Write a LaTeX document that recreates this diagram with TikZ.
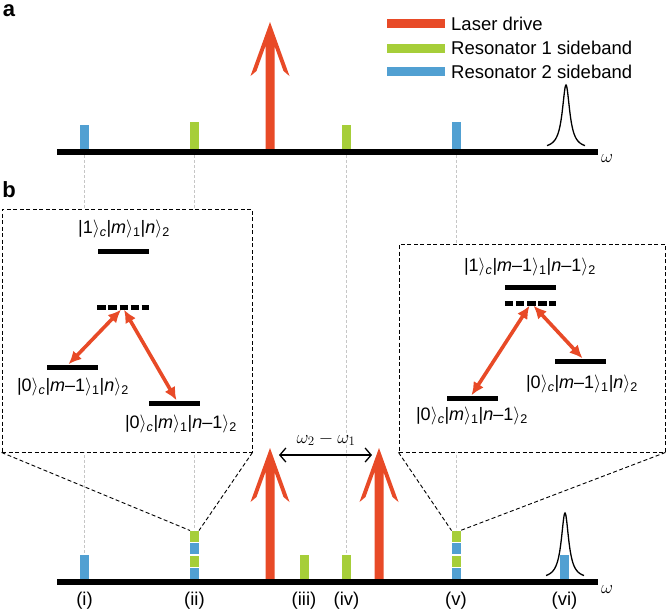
\RequirePackage{fix-cm}
\documentclass[tikz,border=0pt]{standalone}
\usepackage{fontspec}
\setmainfont{Liberation Sans}
\usetikzlibrary{arrows.meta}
\definecolor{laserred}{RGB}{232,74,39}
\definecolor{sbgreen}{RGB}{166,206,57}
\definecolor{sbblue}{RGB}{81,160,210}

% ket with subscript
\newcommand{\kt}[2]{|#1$\rangle$\textsubscript{#2}}
% big laser arrow: x, tip y, foot y
\newcommand{\laser}[3]{\fill[laserred] (#1,#2) -- ({#1+19.5},{#2+54}) -- ({#1+13.5},{#2+49})
  -- ({#1+4.5},{#2+24}) -- ({#1+4.5},#3) -- ({#1-4.5},#3) -- ({#1-4.5},{#2+24})
  -- ({#1-13.5},{#2+49}) -- ({#1-19.5},{#2+54}) -- cycle;}
% stacked sideband bar at x
\newcommand{\stackband}[1]{%
  \fill[sbblue]  ({#1-4.5},568) rectangle ({#1+4.5},579);
  \fill[sbgreen] ({#1-4.5},555.5) rectangle ({#1+4.5},566.5);
  \fill[sbblue]  ({#1-4.5},543) rectangle ({#1+4.5},554);
  \fill[sbgreen] ({#1-4.5},530.5) rectangle ({#1+4.5},541.5);}

\begin{document}
\begin{tikzpicture}[x=1pt, y=-1pt,
    axis/.style={line width=5.7pt},
    guide/.style={gray!45, line width=0.5pt, dash pattern=on 3pt off 2pt},
    zoombox/.style={draw, fill=white, dash pattern=on 4pt off 2.5pt, line width=0.9pt,
                    inner sep=0pt},
    zoomline/.style={dash pattern=on 4pt off 2.5pt, line width=0.9pt},
    level/.style={fill=black, minimum width=51pt, minimum height=5pt, inner sep=0pt},
    vlevel/.style={minimum width=51pt, minimum height=5pt, inner sep=0pt},
    vdash/.style={line width=5pt, dash pattern=on 8.5pt off 2.6pt},
    state/.style={font=\fontsize{18}{20}\selectfont, inner sep=0pt},
    txt/.style={font=\fontsize{18.5}{21}\selectfont, inner sep=0pt},
    panel/.style={font=\fontsize{22}{24}\selectfont\bfseries, inner sep=0pt},
    trans/.style={draw=laserred, line width=3.6pt,
                  {Latex[length=13pt,width=12pt]}-{Latex[length=13pt,width=12pt]}},
    detune/.style={line width=1.3pt,
                   {Straight Barb[length=6pt,width=14pt]}-{Straight Barb[length=6pt,width=14pt]}},
    peak/.style={line width=1.3pt}
]
\useasboundingbox (0,0) rectangle (666,611);

% panel labels
\node[panel] (pa) at (9,11) {a};
\node[panel] (pb) at (9,190) {b};

% guide lines between the panels
\draw[guide] (84.5,155) -- (84.5,555);
\draw[guide] (194.5,155) -- (194.5,530);
\draw[guide] (346.5,155) -- (346.5,555);
\draw[guide] (456,155) -- (456,530);

% ---- panel a ----
\fill[sbblue]  (80,125) rectangle (89,149);
\fill[sbgreen] (190,122) rectangle (199,149);
\fill[sbgreen] (342,125) rectangle (351,149);
\fill[sbblue]  (451.5,122) rectangle (460.5,149);
\laser{270}{22}{149}
\draw[peak] plot[domain=547:585, samples=91, smooth] (\x, {149-64/(1+((\x-566)/4.5)^2)});
\draw[axis] (57,152) -- (598,152);
\node[txt] (wa) at (607,159) {$\omega$};

% legend
\fill[laserred] (387,19) rectangle (445,27.5);
\fill[sbgreen]  (387,44) rectangle (445,52.5);
\fill[sbblue]   (387,67) rectangle (445,75.5);
\node[txt, anchor=west] (lg1) at (451,24) {Laser drive};
\node[txt, anchor=west] (lg2) at (451,48) {Resonator 1 sideband};
\node[txt, anchor=west] (lg3) at (451,71.5) {Resonator 2 sideband};

% ---- panel b: zoom boxes ----
\node[zoombox, minimum width=250pt, minimum height=243pt] (lbox) at (127,330.5) {};
\node[zoombox, minimum width=266pt, minimum height=208pt] (rbox) at (532,348) {};

\coordinate (iiL) at (190,530.5);
\coordinate (iiR) at (199,530.5);
\coordinate (vL) at (451.5,530.5);
\coordinate (vR) at (460.5,530.5);
\draw[zoomline] (lbox.south west) -- (iiL);
\draw[zoomline] (lbox.south east) -- (iiR);
\draw[zoomline] (rbox.south west) -- (vL);
\draw[zoomline] (rbox.south east) -- (vR);

% left box levels
\node[level] (e1) at (123,251) {};
\node[vlevel] (v1) at (123,307) {};
\node[level] (gA) at (72.5,367) {};
\node[level] (gB) at (174.5,403) {};
\draw[vdash] (v1.west) -- (v1.east);
\node[state] (e1l) at (124,229) {\kt{1}{\textit{c}}\kt{\textit{m}}{1}\kt{\textit{n}}{2}};
\node[state] (gAl) at (73,387) {\kt{0}{\textit{c}}\kt{\textit{m}–1}{1}\kt{\textit{n}}{2}};
\node[state] (gBl) at (181,424) {\kt{0}{\textit{c}}\kt{\textit{m}}{1}\kt{\textit{n}–1}{2}};
\draw[trans] ([xshift=-2pt]v1.south) -- ([xshift=-4pt]gA.north);
\draw[trans] ([xshift=1pt]v1.south) -- ([xshift=2pt]gB.north);

% right box levels
\node[level] (e2) at (530.5,287) {};
\node[vlevel] (v2) at (530.5,303) {};
\node[level] (gC) at (580.5,361) {};
\node[level] (gD) at (472.5,398) {};
\draw[vdash] (v2.west) -- (v2.east);
\node[state] (e2l) at (530,267) {\kt{1}{\textit{c}}\kt{\textit{m}–1}{1}\kt{\textit{n}–1}{2}};
\node[state] (gCl) at (582,384) {\kt{0}{\textit{c}}\kt{\textit{m}–1}{1}\kt{\textit{n}}{2}};
\node[state] (gDl) at (472,416) {\kt{0}{\textit{c}}\kt{\textit{m}}{1}\kt{\textit{n}–1}{2}};
\draw[trans] ([xshift=-1pt]v2.south) -- ([xshift=-1pt]gD.north);
\draw[trans] ([xshift=3pt]v2.south) -- ([xshift=2pt]gC.north);

% ---- panel b: spectrum ----
\fill[sbblue]  (80,555) rectangle (89,579);
\stackband{194.5}
\fill[sbgreen] (299.5,555) rectangle (308.5,579);
\fill[sbgreen] (342,555) rectangle (351,579);
\stackband{456}
\fill[sbblue]  (560,555) rectangle (569,579);
\laser{270}{448}{579}
\laser{379}{448}{579}
\draw[peak] plot[domain=546:584, samples=91, smooth] (\x, {579-66/(1+((\x-565)/4.5)^2)});
\draw[axis] (57,582) -- (598,582);
\node[txt] (wb) at (607,590) {$\omega$};

% detuning
\coordinate (dl) at (279,455);
\coordinate (dr) at (372,455);
\draw[detune] (dl) -- (dr);
\node[txt] (dlab) at (326,439) {$\omega_2-\omega_1$};

% markers
\node[txt] (m1) at (84.5,601) {(i)};
\node[txt] (m2) at (194.5,601) {(ii)};
\node[txt] (m3) at (304,601) {(iii)};
\node[txt] (m4) at (346.5,601) {(iv)};
\node[txt] (m5) at (456,601) {(v)};
\node[txt] (m6) at (564.5,601) {(vi)};
\end{tikzpicture}
\end{document}
